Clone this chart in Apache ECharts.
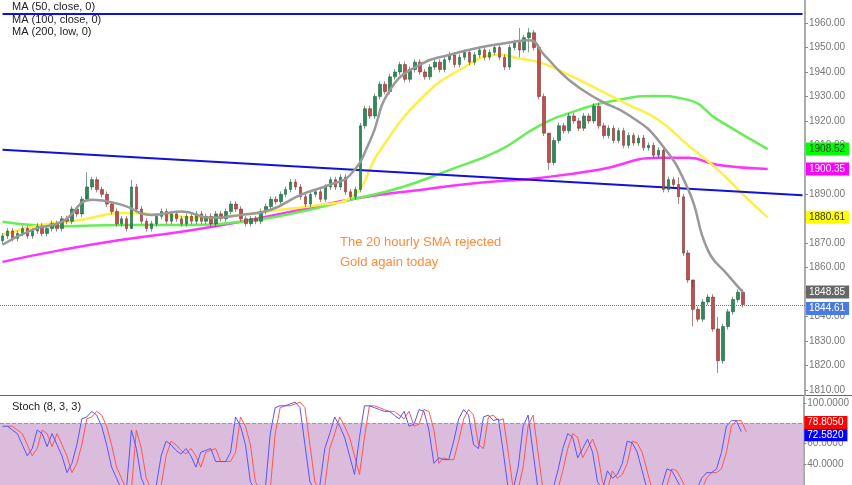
<!DOCTYPE html>
<html lang="en" style="height: 100%">
<head>
    <meta charset="UTF-8">
    <title>Gold H1</title>
    <script src="https://cdn.jsdelivr.net/npm/echarts@6/dist/echarts.min.js"></script>
</head>
<body style="height: 100%; margin: 0; background: #fff">
<div id="container" style="width: 852px; height: 485px"></div>
<script type="text/javascript">
    // closes, one per hourly candle
    var closes = [
        1873,1875,1872,1874,1876,1873,1875,1877,1874,1876,
        1878,1876,1880,1879,1884,1882,1888,1893,1896,1892,
        1890,1886,1883,1878,1880,1876,1893,1884,1879,1876,
        1878,1881,1883,1879,1882,1880,1878,1881,1879,1882,
        1879,1881,1878,1882,1880,1883,1886,1884,1880,1878,
        1880,1879,1883,1885,1888,1887,1890,1892,1895,1893,
        1889,1886,1890,1891,1888,1893,1896,1893,1897,1891,
        1889,1892,1918,1925,1922,1930,1935,1932,1938,1940,
        1943,1937,1941,1944,1940,1938,1942,1944,1941,1945,
        1947,1943,1946,1948,1944,1947,1949,1946,1948,1950,
        1946,1942,1950,1952,1949,1954,1956,1950,1930,1915,
        1903,1912,1918,1916,1922,1920,1917,1922,1920,1926,
        1918,1914,1917,1912,1916,1910,1914,1911,1913,1909,
        1910,1906,1908,1892,1896,1894,1889,1866,1855,1843,
        1839,1846,1848,1835,1822,1836,1842,1847,1850,1845
    ];
    var firstOpen = 1871;
    // candles with long wicks: [index, low, high]
    var wicks = [[17, 1890, 1899], [26, 1877, 1896], [104, 1946, 1958], [106, 1948, 1958],
                 [110, 1900, 1914], [136, 1886, 1897], [139, 1836, 1852], [144, 1817, 1840]];

    // moving averages, [candle index, price]
    var sma20 = [[0,1869.4],[6,1875.5],[12,1878.8],[18,1887.8],[24,1885.7],[30,1881.6],[36,1883],[42,1880.4],
                 [48,1881.6],[54,1883.7],[60,1889.8],[66,1894],[70,1898],[74,1912],[78,1932.7],[84,1943],
                 [90,1947],[96,1950],[102,1952],[106,1953],[109,1947],[114,1936.7],[120,1928.6],[126,1922.4],
                 [132,1912],[138,1892],[142,1867],[146,1857],[149,1850]];
    var sma50 = [[0,1873.5],[8,1877.6],[16,1879.6],[24,1882.4],[32,1881.6],[40,1880.4],[48,1881.6],[56,1883.7],
                 [64,1885.7],[70,1888.6],[76,1908],[84,1928.6],[92,1940.8],[100,1947],[104,1945.5],[108,1944],
                 [114,1938.8],[120,1932.7],[126,1926.5],[132,1920.4],[138,1910],[144,1900],[149,1890],[154,1880.6]];
    var sma100 = [[0,1878.8],[12,1877],[24,1877.5],[36,1877.5],[48,1878.8],[60,1882.9],[70,1887.8],[80,1892.7],
                  [90,1900],[100,1908],[108,1918],[116,1924.5],[124,1928.6],[131,1930.2],[138,1928.6],[144,1920.4],
                  [154,1908.5]];
    var sma200 = [[0,1862.4],[12,1867.3],[24,1871.4],[36,1874.7],[48,1878.8],[60,1883.7],[72,1888.6],[84,1891.8],
                  [96,1894.7],[108,1896.7],[120,1900],[132,1904.9],[138,1904.9],[144,1902],[154,1900.35]];
    var trendLine = [[0, 1908.2], [161, 1889.6]];
    var topLevel = 1963.7;
    var lastPrice = 1844.61;
    var priceTicks = [1810,1820,1830,1840,1850,1860,1870,1880,1890,1900,1910,1920,1930,1940,1950,1960,1970];
    var stochTicks = [40, 60, 100];

    // Stochastic %K, one per candle
    var stochK = [
        77.1,77.1,73.4,69.8,58.8,47.8,55.1,73.4,69.8,57,69.8,58.8,47.8,31.2,40.4,58.8,84.4,86.3,91.8,88.1,
        77.1,58.8,36.7,25.7,14.7,14.7,73.4,55.1,25.7,14.7,14.7,18.4,47.8,62.4,58.8,53.2,49.6,55.1,47.8,36.7,
        51.4,53.2,55.1,42.2,42.2,42.2,51.4,86.3,77.1,58.8,22.1,14.7,14.7,14.7,69.8,95.5,97.3,97.3,99.1,101,
        95.5,58.8,22.1,14.7,18.4,55.1,69.8,86.3,77.1,66.1,47.8,29.4,66.1,97.3,97.3,95.5,93.6,91.8,91.8,88.1,84.4,
        91.8,77.1,79,93.6,91.8,73.4,40.4,45.9,44.1,44.1,62.4,84.4,93.6,88.1,58.8,55.1,86.3,88.1,82.6,84.4,
        51.4,14.7,14.7,36.7,77.1,88.1,51.4,14.7,14.7,14.7,14.7,33,55.1,69.8,66.1,45.9,55.1,64.3,51.4,22.1,
        14.7,33,25.7,29.4,40.4,62.4,60.6,51.4,33,14.7,14.7,14.7,18.4,34.9,33,23.9,14.7,14.7,14.7,14.7,
        25.7,31.2,31.2,34.9,51.4,77.1,82.6,82.6,71.6
    ];
    var stochD = stochK.map(function (v, i) { return [i + 1, v]; });

    var categories = [];
    for (var i = 0; i < 162; i++) categories.push(i);

    var candles = [];
    for (var i = 0; i < closes.length; i++) {
        var o = i === 0 ? firstOpen : closes[i - 1], c = closes[i];
        candles.push([o, c, Math.min(o, c) - 1.2, Math.max(o, c) + 1.2]);
    }
    wicks.forEach(function (w) { candles[w[0]][2] = w[1]; candles[w[0]][3] = w[2]; });

    function tag(value, bg, fg, digits, dy) {
        return {
            silent: true, symbol: 'none',
            lineStyle: {color: 'rgba(0,0,0,0)', width: 0},
            label: {
                show: true, position: 'end', distance: 1, formatter: value.toFixed(digits), offset: [0, dy || 0],
                backgroundColor: bg, color: fg, fontSize: 10, padding: [2, 4, 1, 3], fontFamily: 'Liberation Sans'
            },
            data: [{yAxis: value}]
        };
    }

    function rightAxis(extra, ticks, digits) {
        return Object.assign({
            type: 'value', position: 'right',
            axisLine: {show: true, lineStyle: {color: '#aaa', width: 2}},
            axisTick: {show: true, length: 3, lineStyle: {color: '#888'}, customValues: ticks},
            axisLabel: {color: '#777', fontSize: 10, fontFamily: 'Liberation Sans', margin: 4, customValues: ticks,
                formatter: function (v) { return v.toFixed(digits); }},
            splitLine: {show: false}
        }, extra);
    }

    var myChart = echarts.init(document.getElementById('container'));
    var option = {
        animation: false,
        grid: [
            {left: 0, right: 47, top: 0, height: 395},
            {left: 0, right: 47, top: 397, bottom: 0}
        ],
        xAxis: [
            {type: 'category', data: categories, gridIndex: 0, show: false},
            {type: 'category', data: categories, gridIndex: 1, show: false}
        ],
        yAxis: [
            rightAxis({gridIndex: 0, min: 1808, max: 1969.4}, priceTicks, 2),
            rightAxis({gridIndex: 1, min: 19, max: 106}, stochTicks, 4)
        ],
        graphic: [
            {type: 'text', left: 12, top: 1, style: {text: 'MA (50, close, 0)', fill: '#222', font: '11px Liberation Sans'}},
            {type: 'text', left: 12, top: 14, style: {text: 'MA (100, close, 0)', fill: '#222', font: '11px Liberation Sans'}},
            {type: 'text', left: 12, top: 26, style: {text: 'MA (200, low, 0)', fill: '#222', font: '11px Liberation Sans'}},
            {type: 'text', left: 12, top: 401, style: {text: 'Stoch (8, 3, 3)', fill: '#222', font: '11px Liberation Sans'}},
            {type: 'line', shape: {x1: 0, y1: 395.5, x2: 852, y2: 395.5}, style: {stroke: '#666', lineWidth: 1}},
            {type: 'text', left: 340, top: 232, style: {text: 'The 20 hourly SMA rejected\nGold again today',
                fill: '#ff8c3a', font: '13px Liberation Sans', lineHeight: 20}}
        ],
        series: [
            {type: 'line', data: sma200, symbol: 'none', smooth: true, lineStyle: {color: '#ff33ff', width: 2.5}, z: 2,
                markLine: tag(1900.35, '#ff00ff', '#fff', 2)},
            {type: 'line', data: sma100, symbol: 'none', smooth: true, lineStyle: {color: '#66ee55', width: 2.5}, z: 2,
                markLine: tag(1908.52, '#00ff00', '#333', 2)},
            {type: 'line', data: sma50, symbol: 'none', smooth: true, lineStyle: {color: '#ffee44', width: 2.5}, z: 2,
                markLine: tag(1880.61, '#ffff00', '#333', 2)},
            {type: 'line', data: trendLine, symbol: 'none', lineStyle: {color: '#1111dd', width: 2}, z: 3},
            {type: 'line', data: [[0, topLevel], [161, topLevel]], symbol: 'none', lineStyle: {color: '#1111dd', width: 2}, z: 3,
                markLine: Object.assign(tag(lastPrice, '#4a7be0', '#fff', 2, 3),
                    {lineStyle: {color: '#5577dd', type: 'dotted', width: 1}})},
            {type: 'candlestick', data: candles, barWidth: 3, z: 4,
                itemStyle: {color: '#2e8b57', color0: '#c0504d', borderColor: '#1f5e3a', borderColor0: '#7a3330', borderWidth: 0.6}},
            {type: 'line', data: sma20, symbol: 'none', smooth: true, lineStyle: {color: '#999', width: 2.5}, z: 5,
                markLine: tag(1848.85, '#666', '#fff', 2, -3)},
            {type: 'line', xAxisIndex: 1, yAxisIndex: 1, data: stochD, symbol: 'none', lineStyle: {color: '#ff5555', width: 1},
                markArea: {silent: true, itemStyle: {color: '#dcbcdc'}, data: [[{yAxis: 0}, {yAxis: 80}]]},
                markLine: {silent: true, symbol: 'none', lineStyle: {color: '#999', type: 'dashed', width: 1},
                    label: {show: false}, data: [{yAxis: 80}]}},
            {type: 'line', xAxisIndex: 1, yAxisIndex: 1, data: stochK, symbol: 'none', lineStyle: {color: '#5555ff', width: 1},
                markLine: tag(72.582, '#0000ff', '#fff', 4, 4)},
            {type: 'line', xAxisIndex: 1, yAxisIndex: 1, data: [[0, 78.805]], symbol: 'none', lineStyle: {opacity: 0},
                markLine: tag(78.805, '#ff0000', '#fff', 4, -2)}
        ]
    };
    myChart.setOption(option);
</script>
</body>
</html>
